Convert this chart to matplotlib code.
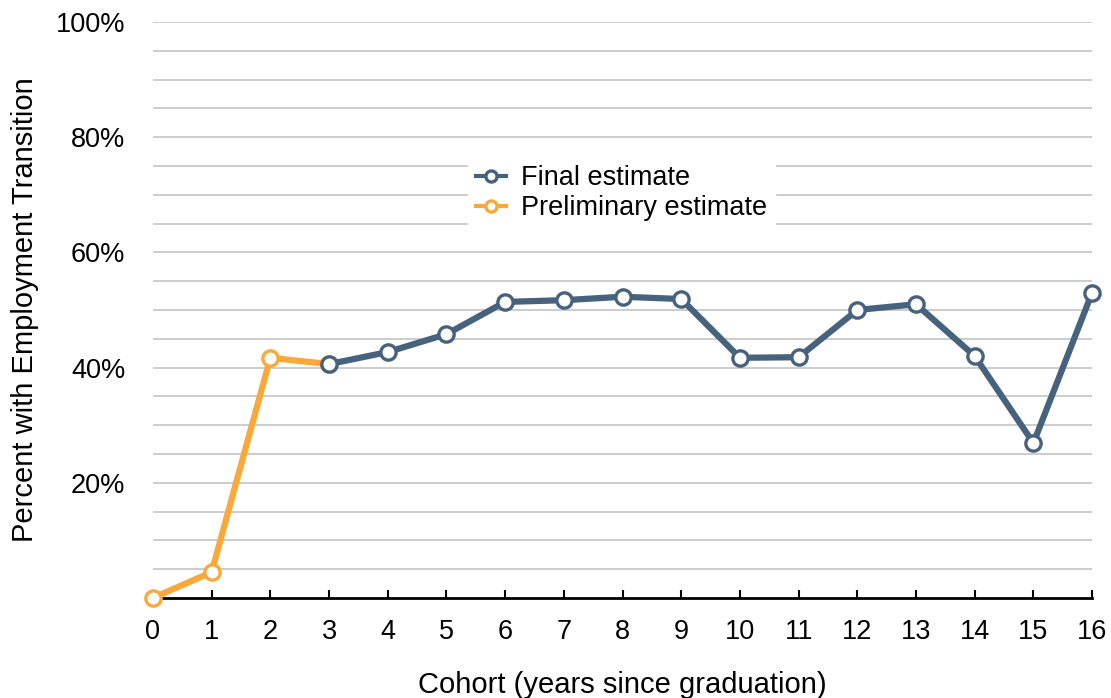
import matplotlib.pyplot as plt

plt.rcParams["font.family"] = ["Liberation Sans", "DejaVu Sans"]

# -----------------------------
# Data
# -----------------------------
prelim_x = [0, 1, 2, 3]
prelim_y = [0.0, 4.5, 41.7, 40.6]

final_x = [3, 4, 5, 6, 7, 8, 9, 10, 11, 12, 13, 14, 15, 16]
final_y = [40.6, 42.7, 45.8, 51.4, 51.7, 52.3, 51.9, 41.7, 41.8, 50.0, 51.0, 42.0, 26.9, 53.0]

grid_levels = list(range(5, 101, 5))
tick_labels = [f"{v}%" if v % 20 == 0 else "" for v in grid_levels]

BLUE = "#47627c"
ORANGE = "#fba83a"

fig = plt.figure(figsize=(11.11, 6.98), dpi=100)
ax = fig.add_axes([0.1377, 0.1433, 0.8453, 0.8252])

ax.plot(prelim_x, prelim_y, color=ORANGE, lw=4.5, marker="o", ms=11,
        mfc="white", mec=ORANGE, mew=2.4, clip_on=False, zorder=3,
        label="Preliminary estimate")
ax.plot(final_x, final_y, color=BLUE, lw=4.5, marker="o", ms=11,
        mfc="white", mec=BLUE, mew=2.4, clip_on=False, zorder=4,
        label="Final estimate")

ax.set_xlim(0, 16)
ax.set_ylim(0, 100)
ax.set_xticks(range(17))
ax.set_yticks(grid_levels)
ax.set_yticklabels(tick_labels)

ax.grid(axis="y", color="#cccccc", lw=1.4)
ax.set_axisbelow(True)

for side in ["left", "right", "top"]:
    ax.spines[side].set_visible(False)
ax.spines["bottom"].set_linewidth(2)
ax.spines["bottom"].set_color("black")

ax.tick_params(axis="x", direction="in", length=6, width=1.5, pad=15, labelsize=19.5)
ax.tick_params(axis="y", length=0, pad=20, labelsize=19.5)

ax.set_xlabel("Cohort (years since graduation)", fontsize=21, labelpad=19)
ax.set_ylabel("Percent with Employment Transition", fontsize=21, labelpad=12)

handles, labels = ax.get_legend_handles_labels()
leg = ax.legend(handles[::-1], labels[::-1], loc="upper left",
                bbox_to_anchor=(0.321, 0.789), frameon=True, fancybox=False,
                edgecolor="white", framealpha=1, fontsize=19.5,
                handlelength=1.1, handletextpad=0.55, labelspacing=0.15,
                borderpad=0.3)
for h in leg.legend_handles:
    h.set_markersize(8)
    h.set_linewidth(3)

fig.savefig("out.png", dpi=100)
